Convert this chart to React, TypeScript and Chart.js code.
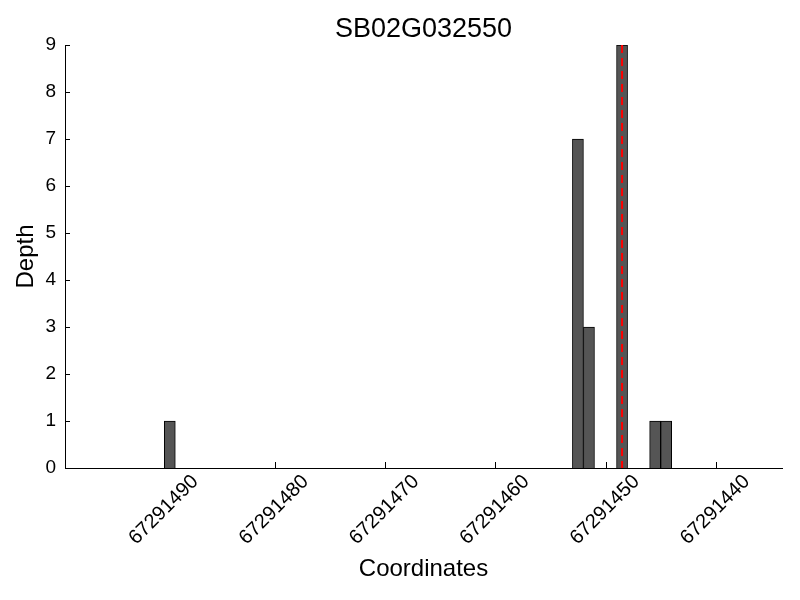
import React, { useEffect, useRef } from "react";
import { Chart, registerables } from "chart.js";

Chart.register(...registerables);

// ---- data ----
const chartTitle = "SB02G032550";
const xAxisTitle = "Coordinates";
const yAxisTitle = "Depth";
// genomic positions (bar left edges, matplotlib edge-aligned bars)
const positions = [67291489, 67291452, 67291451, 67291448, 67291445, 67291444];
const depths = [1, 7, 3, 9, 1, 1];
// highlighted position (red dashed line)
const markerPosition = 67291448;
// axis ranges
const xMin = 67291434;
const xMax = 67291499;
const xStep = 10;
const yMin = 0;
const yMax = 9;
const yStep = 1;

const FONT = "'Liberation Sans', Arial, Helvetica, sans-serif";

const overlayPlugin = {
  id: "overlay",
  afterDatasetsDraw(chart: any) {
    const { ctx, chartArea, scales } = chart;
    const x = scales.x;
    const y = scales.y;
    ctx.save();
    // red dashed marker through the centre of the marked bar
    const mx = x.getPixelForValue(markerPosition + 0.5);
    ctx.strokeStyle = "#ff0000";
    ctx.lineWidth = 2;
    ctx.setLineDash([8, 5]);
    ctx.beginPath();
    ctx.moveTo(mx, chartArea.top);
    ctx.lineTo(mx, chartArea.bottom);
    ctx.stroke();
    ctx.setLineDash([]);
    // inward tick marks
    ctx.strokeStyle = "#000";
    ctx.lineWidth = 1;
    ctx.beginPath();
    x.ticks.forEach((_t: any, i: number) => {
      const px = Math.round(x.getPixelForTick(i)) + 0.5;
      ctx.moveTo(px, chartArea.bottom);
      ctx.lineTo(px, chartArea.bottom - 6);
    });
    y.ticks.forEach((_t: any, i: number) => {
      const py = Math.round(y.getPixelForTick(i)) + 0.5;
      ctx.moveTo(chartArea.left, py);
      ctx.lineTo(chartArea.left + 5, py);
    });
    ctx.stroke();
    ctx.restore();
  },
  afterDraw(chart: any) {
    const { ctx, chartArea } = chart;
    ctx.save();
    ctx.font = `27px ${FONT}`;
    ctx.fillStyle = "#000";
    ctx.textAlign = "center";
    ctx.textBaseline = "alphabetic";
    ctx.fillText(chartTitle, (chartArea.left + chartArea.right) / 2, 37);
    ctx.restore();
  },
};

export default function App() {
  const canvasRef = useRef<HTMLCanvasElement | null>(null);

  useEffect(() => {
    if (!canvasRef.current) return;
    Chart.defaults.font.family = FONT;
    Chart.defaults.color = "#000";
    const data = positions.map((p, i) => ({ x: p + 0.5, y: depths[i] }));
    const chart = new Chart(canvasRef.current, {
      type: "bar",
      data: {
        datasets: [
          {
            data: data as any,
            backgroundColor: "#555555",
            borderColor: "#000000",
            borderWidth: 1,
            barPercentage: 1,
            categoryPercentage: 1,
          },
        ],
      },
      options: {
        responsive: false,
        animation: false,
        layout: { padding: { top: 45, right: 18, left: 0, bottom: 0 } },
        plugins: {
          legend: { display: false },
          tooltip: { enabled: false },
          title: { display: false },
        },
        scales: {
          x: {
            type: "linear",
            reverse: true,
            offset: false,
            min: xMin,
            max: xMax,
            grid: { display: false, drawTicks: false },
            border: { display: true, color: "#000", width: 1 },
            ticks: {
              stepSize: xStep,
              includeBounds: false,
              autoSkip: false,
              minRotation: 45,
              maxRotation: 45,
              labelOffset: 31,
              padding: 2,
              font: { size: 20, family: FONT },
              color: "#000",
              callback: (v: any) => String(v),
            },
            title: {
              display: true,
              text: xAxisTitle,
              font: { size: 24, family: FONT },
              color: "#000",
              padding: { top: 0, bottom: 16 },
            },
            afterFit: (scale: any) => {
              scale.height = 132;
            },
          },
          y: {
            type: "linear",
            min: yMin,
            max: yMax,
            grid: { display: false, drawTicks: false },
            border: { display: true, color: "#000", width: 1 },
            ticks: {
              stepSize: yStep,
              padding: 9,
              font: { size: 19, family: FONT },
              color: "#000",
            },
            title: {
              display: true,
              text: yAxisTitle,
              font: { size: 24, family: FONT },
              color: "#000",
              padding: { top: 12, bottom: 0 },
            },
            afterFit: (scale: any) => {
              scale.width = 65;
            },
          },
        },
      },
      plugins: [overlayPlugin],
    });
    return () => chart.destroy();
  }, []);

  return (
    <div style={{ position: "absolute", left: 0, top: 0, width: 800, height: 600, background: "#fff" }}>
      <canvas ref={canvasRef} width={800} height={600} style={{ display: "block" }} />
    </div>
  );
}
